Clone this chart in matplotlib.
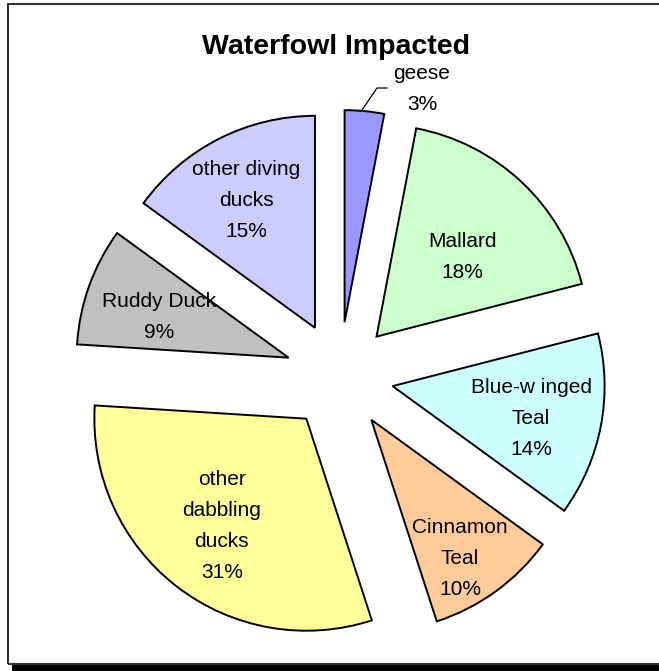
import matplotlib.pyplot as plt
from matplotlib.patches import Rectangle
import numpy as np

plt.rcParams['font.family'] = ['Liberation Sans', 'DejaVu Sans']

labels = ['geese', 'Mallard', 'Blue-w inged\nTeal', 'Cinnamon\nTeal',
          'other\ndabbling\nducks', 'Ruddy Duck', 'other diving\nducks']
shares = [3, 18, 14, 10, 31, 9, 15]
colors = ['#9999FF', '#CCFFCC', '#CCFFFF', '#FFCC99', '#FFFF99', '#C0C0C0', '#CCCCFF']

W, H = 659, 671
cx, cy, R = 339.5, 376, 212
expl = 0.255

fig = plt.figure(figsize=(W / 100, H / 100), dpi=100)
ax = fig.add_axes([0, 0, 1, 1])
ax.axis('off')

wedges, _ = ax.pie(shares, colors=colors, startangle=90, counterclock=False,
                   explode=[expl] * len(shares),
                   wedgeprops=dict(edgecolor='black', linewidth=1.4))
ax.set_xlim(-cx / R, (W - cx) / R)
ax.set_ylim(-(H - cy) / R, cy / R)
ax.set_aspect('auto')

def px(x, y):
    return (x - cx) / R, (cy - y) / R

# label distance from each slice's tip (fraction of radius) + small pixel nudges
ldist = [None, 0.55, 0.665, 0.76, 0.65, 0.65, 0.69]
nudge = [(0, 0), (6, 5), (0, 6), (-6, 8), (0, -2), (0, 6), (-2, 3)]
fs, ls = 15, 1.8
for w, lab, s, d, (nx, ny) in zip(wedges, labels, shares, ldist, nudge):
    mid = np.deg2rad((w.theta1 + w.theta2) / 2)
    ox, oy = expl * np.cos(mid), expl * np.sin(mid)
    txt = '%s\n%d%%' % (lab, s)
    if d is None:
        # geese label sits outside with leader line
        ax.text(*px(422, 89), txt, ha='center', va='center', fontsize=fs, linespacing=ls)
        pts = [px(362, 110), px(377, 88), px(387, 88)]
        ax.plot([p[0] for p in pts], [p[1] for p in pts], color='black', lw=0.9)
        continue
    ax.text(ox + d * np.cos(mid) + nx / R, oy + d * np.sin(mid) - ny / R, txt,
            ha='center', va='center', fontsize=fs, linespacing=ls)

fig.text(336 / W, 1 - 47 / H, 'Waterfowl Impacted', ha='center', va='center',
         fontsize=20.5, fontweight='bold')

# chart frame with shadow
fig.add_artist(Rectangle((12 / W, 0), 1, 6 / H, transform=fig.transFigure,
                         facecolor='black', edgecolor='none'))
fig.add_artist(Rectangle((7.5 / W, 7 / H), 1, (H - 11) / H, transform=fig.transFigure,
                         facecolor='none', edgecolor='#333333', linewidth=1.5))

fig.savefig('out.png', dpi=100)
